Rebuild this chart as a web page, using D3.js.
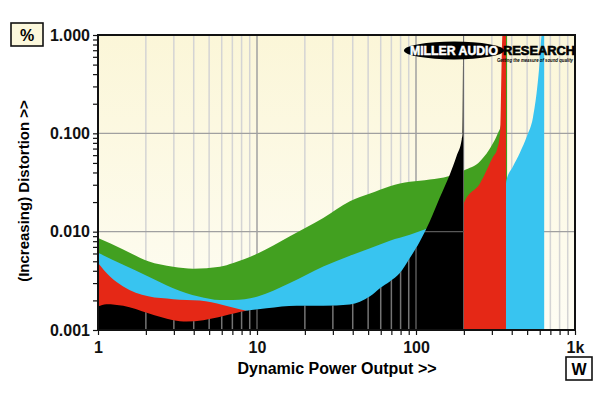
<!DOCTYPE html>
<html>
<head>
<meta charset="utf-8">
<script src="https://cdn.jsdelivr.net/npm/d3@7"></script>
<style>
body{margin:0;background:#fff;}
svg{display:block;font-family:"Liberation Sans",Arial,sans-serif;}
</style>
</head>
<body>
<div id="graphWrapper"></div>
<script>
//data: power in W, distortion in %
const greenPower = [1, 1.44, 2.07, 2.97, 3.97, 5.84, 7.1, 10.1, 16.1, 26.1, 38.4, 51.4, 68.5, 91.5, 122, 160, 200, 253, 306, 325, 345, 360, 374];
const greenTHD   = [0.0086, 0.0066, 0.0050, 0.0044, 0.0042, 0.0044, 0.0048, 0.0060, 0.0090, 0.0138, 0.0204, 0.0244, 0.0290, 0.0321, 0.0339, 0.0367, 0.042, 0.052, 0.080, 0.098, 0.13, 1.0, 1.0];

const cyanPower = [1, 1.44, 2.07, 2.97, 4.3, 5.84, 7.1, 10.1, 16.1, 26.1, 38.4, 51.4, 68.5, 91.5, 116.7, 140, 200, 300, 360, 370, 407, 451, 499, 544, 577, 602, 618, 640];
const cyanTHD   = [0.0061, 0.0046, 0.0035, 0.00266, 0.00219, 0.00202, 0.00202, 0.00219, 0.0030, 0.00443, 0.0057, 0.0068, 0.0081, 0.0093, 0.0107, 0.012, 0.014, 0.017, 0.018, 0.033, 0.046, 0.064, 0.094, 0.145, 0.28, 0.57, 1.0, 1.0];

const redPower = [1, 1.19, 1.44, 2.07, 2.97, 4.37, 6.1, 8.6, 10, 20, 50, 100, 150, 190, 200, 253, 306, 323, 338, 350, 368];
const redTHD   = [0.0048, 0.0035, 0.00277, 0.0022, 0.00206, 0.00199, 0.0018, 0.00157, 0.0015, 0.0015, 0.0016, 0.0020, 0.005, 0.012, 0.0195, 0.031, 0.058, 0.068, 0.10, 1.0, 1.0];

const blackPower = [1, 1.13, 1.44, 2.07, 2.97, 3.61, 4.6, 6.14, 8.6, 11.5, 17.8, 26.1, 38.4, 51.4, 59.3, 68.5, 79.2, 91.5, 105.7, 122, 141, 163, 180, 194, 196.5, 198.5, 200];
const blackTHD   = [0.00173, 0.00183, 0.00176, 0.00148, 0.00126, 0.00122, 0.00126, 0.00139, 0.00157, 0.00166, 0.00176, 0.00176, 0.00182, 0.0022, 0.00266, 0.00311, 0.00379, 0.00539, 0.00796, 0.0127, 0.0221, 0.038, 0.0587, 0.087, 0.1, 1.0, 1.0];

//tick labels
const xTickValues = [1, 10, 100, 1000];
const xTickLabels = ['1', '10', '100', '1k'];
const yTickValues = [0.001, 0.01, 0.1, 1];
const yTickLabels = ['0.001', '0.010', '0.100', '1.000'];

//layout and colours
const CONSTANTS = {
    WIDTH:600,
    HEIGHT:398,
    LEFT:98,      //x of 1 W
    RIGHT:575,    //x of 1 kW
    TOP:35,       //y of 1.000 %
    BOTTOM:330,   //y of 0.001 %
    GREEN:'#42a020',
    CYAN:'#38c4f0',
    RED:'#e52816',
    BLACK:'#000000'
};

//minor ticks for the log axes (2..9 of each decade)
function logTicks(start, end){
    let t = [];
    for(let d = start; d < end; d *= 10){
        for(let k = 1; k < 10; k++) t.push(d * k);
    }
    t.push(end);
    return t;
}

const svg = d3.select('#graphWrapper')
    .append('svg')
    .attr('width', CONSTANTS.WIDTH)
    .attr('height', CONSTANTS.HEIGHT);

const x = d3.scaleLog().domain([1, 1000]).range([CONSTANTS.LEFT, CONSTANTS.RIGHT]);
const y = d3.scaleLog().domain([0.001, 1]).range([CONSTANTS.BOTTOM, CONSTANTS.TOP]);

const defs = svg.append('defs');
const grad = defs.append('linearGradient').attr('id', 'bg').attr('x1', 0).attr('y1', 0).attr('x2', 0).attr('y2', 1);
grad.append('stop').attr('offset', '0%').attr('stop-color', '#fbf6d8');
grad.append('stop').attr('offset', '100%').attr('stop-color', '#fefdf4');

defs.append('clipPath').attr('id', 'plotClip')
    .append('rect')
    .attr('x', CONSTANTS.LEFT).attr('y', CONSTANTS.TOP)
    .attr('width', CONSTANTS.RIGHT - CONSTANTS.LEFT)
    .attr('height', CONSTANTS.BOTTOM - CONSTANTS.TOP);

//plot background
svg.append('rect')
    .attr('x', CONSTANTS.LEFT).attr('y', CONSTANTS.TOP)
    .attr('width', CONSTANTS.RIGHT - CONSTANTS.LEFT)
    .attr('height', CONSTANTS.BOTTOM - CONSTANTS.TOP)
    .attr('fill', 'url(#bg)');

const xMinor = logTicks(1, 1000).filter(v => xTickValues.indexOf(v) < 0);

//grid lines, drawn into a group so they can be repeated over the black area
function drawGrid(g){
    g.selectAll('.vminor').data(xMinor).enter().append('line')
        .attr('x1', d => x(d)).attr('x2', d => x(d))
        .attr('y1', CONSTANTS.TOP).attr('y2', CONSTANTS.BOTTOM)
        .attr('stroke', '#d4d4d4').attr('stroke-width', 1.5);
    g.selectAll('.vmajor').data([10, 100]).enter().append('line')
        .attr('x1', d => x(d)).attr('x2', d => x(d))
        .attr('y1', CONSTANTS.TOP).attr('y2', CONSTANTS.BOTTOM)
        .attr('stroke', '#a0a0a0').attr('stroke-width', 1.5);
    g.selectAll('.hmajor').data([0.01, 0.1]).enter().append('line')
        .attr('x1', CONSTANTS.LEFT).attr('x2', CONSTANTS.RIGHT)
        .attr('y1', d => y(d)).attr('y2', d => y(d))
        .attr('stroke', '#a0a0a0').attr('stroke-width', 1.2);
}
drawGrid(svg.append('g'));

const area = d3.area()
    .x(d => x(d[0]))
    .y0(CONSTANTS.BOTTOM)
    .y1(d => y(d[1]))
    .curve(d3.curveMonotoneX);

const series = [
    {power:greenPower, thd:greenTHD, color:CONSTANTS.GREEN},
    {power:cyanPower,  thd:cyanTHD,  color:CONSTANTS.CYAN},
    {power:redPower,   thd:redTHD,   color:CONSTANTS.RED},
    {power:blackPower, thd:blackTHD, color:CONSTANTS.BLACK}
];

const plot = svg.append('g').attr('clip-path', 'url(#plotClip)');
series.forEach(s => {
    let pts = s.power.map((p, i) => [p, s.thd[i]]);
    plot.append('path').attr('d', area(pts)).attr('fill', s.color);
});

//the grid shows through the black area
defs.append('clipPath').attr('id', 'blackClip')
    .append('path')
    .attr('d', area(blackPower.map((p, i) => [p, blackTHD[i]])));
drawGrid(svg.append('g').attr('clip-path', 'url(#blackClip)').attr('opacity', 0.55));

//frame
svg.append('rect')
    .attr('x', CONSTANTS.LEFT).attr('y', CONSTANTS.TOP)
    .attr('width', CONSTANTS.RIGHT - CONSTANTS.LEFT)
    .attr('height', CONSTANTS.BOTTOM - CONSTANTS.TOP)
    .attr('fill', 'none').attr('stroke', '#111').attr('stroke-width', 2);

//axes
const xAxis = d3.axisBottom(x)
    .tickValues(logTicks(1, 1000))
    .tickSize(4)
    .tickPadding(7)
    .tickFormat(v => {
        let i = xTickValues.indexOf(v);
        return i < 0 ? '' : xTickLabels[i];
    });
const yAxis = d3.axisLeft(y)
    .tickValues(logTicks(0.001, 1))
    .tickSize(4)
    .tickPadding(3)
    .tickFormat(v => {
        let i = yTickValues.findIndex(t => Math.abs(t - v) < 1e-9);
        return i < 0 ? '' : yTickLabels[i];
    });

const gx = svg.append('g')
    .attr('transform', 'translate(0,' + (CONSTANTS.BOTTOM + 1) + ')')
    .call(xAxis);
const gy = svg.append('g')
    .attr('transform', 'translate(' + (CONSTANTS.LEFT - 1) + ',0)')
    .call(yAxis);

[gx, gy].forEach(g => {
    g.select('.domain').remove();
    g.selectAll('line').attr('stroke', '#111').attr('stroke-width', 1.2);
    g.selectAll('text')
        .attr('fill', '#111')
        .style('font-size', '16px')
        .style('font-weight', 'bold')
        .style('font-family', '"Liberation Sans", Arial, sans-serif');
});

//axis titles
svg.append('text')
    .attr('x', 337).attr('y', 374)
    .attr('text-anchor', 'middle')
    .style('font-size', '16px').style('font-weight', 'bold')
    .text('Dynamic Power Output >>');

svg.append('text')
    .attr('transform', 'translate(29,191) rotate(-90)')
    .attr('text-anchor', 'middle')
    .style('font-size', '15px').style('font-weight', 'bold')
    .text('(Increasing) Distortion >>');

//unit boxes
function unitBox(bx, by, w, h, label, fill){
    svg.append('rect')
        .attr('x', bx).attr('y', by).attr('width', w).attr('height', h)
        .attr('fill', fill).attr('stroke', '#111').attr('stroke-width', 1.6);
    svg.append('text')
        .attr('x', bx + w / 2).attr('y', by + h / 2 + 6)
        .attr('text-anchor', 'middle')
        .style('font-size', '16px').style('font-weight', 'bold')
        .text(label);
}
unitBox(11, 23, 32, 23, '%', '#fcf8dc');
unitBox(566, 357, 26, 23, 'W', '#ffffff');

//logo
const logo = svg.append('g');
logo.append('ellipse')
    .attr('cx', 454).attr('cy', 50.5).attr('rx', 50).attr('ry', 9)
    .attr('fill', '#000');
logo.append('text')
    .attr('x', 410).attr('y', 54.5)
    .attr('textLength', 88).attr('lengthAdjust', 'spacingAndGlyphs')
    .attr('fill', '#fff').attr('stroke', '#fff').attr('stroke-width', 0.5)
    .style('font-size', '12px').style('font-weight', 'bold')
    .text('MILLER AUDIO');
logo.append('text')
    .attr('x', 503).attr('y', 54.5)
    .attr('textLength', 72).attr('lengthAdjust', 'spacingAndGlyphs')
    .attr('fill', '#000').attr('stroke', '#000').attr('stroke-width', 0.6)
    .style('font-size', '12px').style('font-weight', 'bold')
    .text('RESEARCH');
logo.append('text')
    .attr('x', 497).attr('y', 62)
    .attr('textLength', 76).attr('lengthAdjust', 'spacingAndGlyphs')
    .attr('fill', '#000')
    .style('font-size', '5px').style('font-weight', 'bold').style('font-style', 'italic')
    .text('Getting the measure of sound quality');
</script>
</body>
</html>
